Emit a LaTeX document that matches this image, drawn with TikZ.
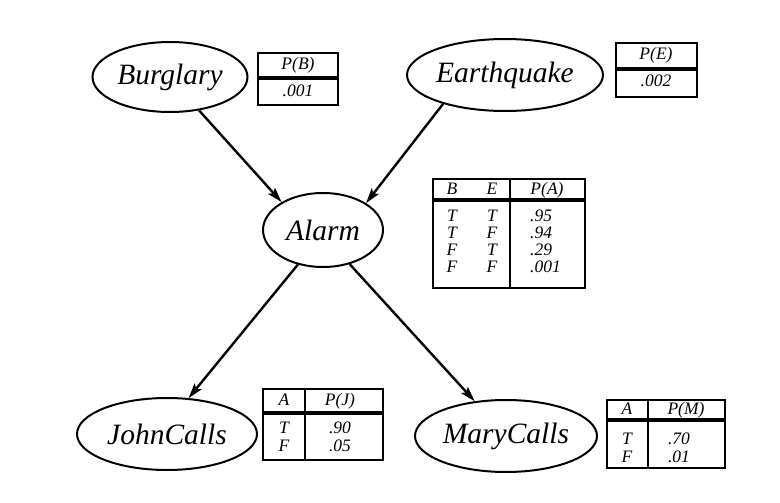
\documentclass[tikz,border=0pt]{standalone}
\usepackage{fontspec}
\setmainfont{Liberation Serif}
\usepackage{tikz}
\usetikzlibrary{shapes,arrows.meta,positioning}

\begin{document}
\begin{tikzpicture}[
			x = 1pt, y = -1pt,
			var/.style = {ellipse, draw, line width = 2pt, inner sep = 0pt,
				font = \fontsize{29.5}{34}\selectfont\itshape},
			cpt/.style = {draw, line width = 2.4pt},
			sep/.style = {line width = 3.4pt},
			cell/.style = {inner sep = 0pt, text height = 11pt, text depth = 3pt,
				font = \fontsize{17.5}{18}\selectfont\itshape},
			arr/.style = {-{Stealth[length = 15pt, width = 9pt, inset = 3pt]}, line width = 2.4pt}
			]

			\useasboundingbox (0,0) rectangle (780,503);

			\node[var, minimum width = 155, minimum height = 70] (burglary) at (170,77) {Burglary};
			\node[var, minimum width = 196, minimum height = 72] (earthquake) at (505,75) {Earthquake};
			\node[var, minimum width = 120, minimum height = 74] (alarm) at (323,230) {Alarm};
			\node[var, minimum width = 180, minimum height = 72] (johncalls) at (167,434) {JohnCalls};
			\node[var, minimum width = 182, minimum height = 72] (marycalls) at (506,436) {MaryCalls};

			\draw[arr] (burglary.-49) -- (alarm.146);
			\draw[arr] (earthquake.205) -- (alarm.32);
			\draw[arr] (alarm.234) -- (johncalls.59);
			\draw[arr] (alarm.-52) -- (marycalls.132);

			% P(B)
			\draw[cpt] (258,53) rectangle (338,105);
			\draw[sep] (258,78) -- (338,78);
			\node[cell] (pb-h) at (298,66) {P(B)};
			\node[cell] (pb-v) at (298,92) {.001};

			% P(E)
			\draw[cpt] (616,43) rectangle (697,97);
			\draw[sep] (616,69) -- (697,69);
			\node[cell] (pe-h) at (656,56) {P(E)};
			\node[cell] (pe-v) at (656,83) {.002};

			% P(A)
			\draw[cpt] (433,179) rectangle (585,288);
			\draw[sep] (433,200) -- (585,200);
			\draw[cpt] (510,179) -- (510,288);
			\node[cell] (pa-b) at (452,190) {B};
			\node[cell] (pa-e) at (492,190) {E};
			\node[cell] (pa-p) at (547,190) {P(A)};
			\foreach \b/\e/\p [count = \i] in {T/T/.95,T/F/.94,F/T/.29,F/F/.001}{
				\node[cell] (pa-b\i) at (452,{200+17*\i}) {\b};
				\node[cell] (pa-e\i) at (492,{200+17*\i}) {\e};
				\node[cell, anchor = west] (pa-p\i) at (530,{200+17*\i}) {\p};
			}

			% P(J)
			\draw[cpt] (263,389) rectangle (383,460);
			\draw[sep] (263,413) -- (383,413);
			\draw[cpt] (305,389) -- (305,460);
			\node[cell] (pj-a) at (284,401) {A};
			\node[cell] (pj-p) at (340,401) {P(J)};
			\foreach \a/\p [count = \i] in {T/.90,F/.05}{
				\node[cell] (pj-a\i) at (284,{411+18*\i}) {\a};
				\node[cell] (pj-p\i) at (340,{411+18*\i}) {\p};
			}

			% P(M)
			\draw[cpt] (607,400) rectangle (725,468);
			\draw[sep] (607,420) -- (725,420);
			\draw[cpt] (648,400) -- (648,468);
			\node[cell] (pm-a) at (627,410) {A};
			\node[cell] (pm-p) at (686,410) {P(M)};
			\foreach \a/\p [count = \i] in {T/.70,F/.01}{
				\node[cell] (pm-a\i) at (627,{422+18*\i}) {\a};
				\node[cell] (pm-p\i) at (679,{422+18*\i}) {\p};
			}

		\end{tikzpicture}
\end{document}
